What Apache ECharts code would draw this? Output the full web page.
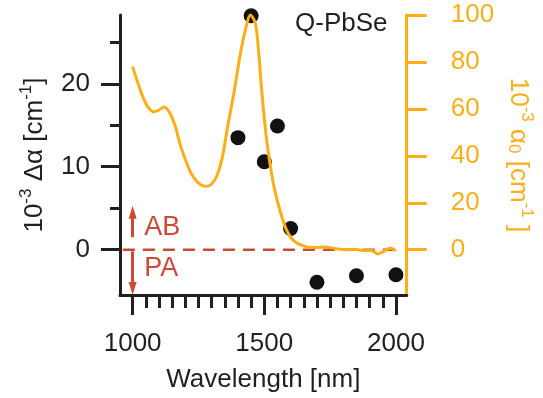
<!DOCTYPE html>
<html>
<head>
<meta charset="utf-8">
<script src="https://cdn.jsdelivr.net/npm/echarts@6/dist/echarts.min.js"></script>
<style>
  html, body { margin: 0; padding: 0; background: #fff; }
  #chart { width: 543px; height: 398px; }
</style>
</head>
<body>
<div id="chart"></div>
<script>
// Transient absorption change (left axis, 10^-3 cm^-1)
const probeWavelength = [1400, 1450, 1500, 1550, 1600, 1700, 1850, 2000];
const deltaAlpha = [13.5, 28.2, 10.6, 14.9, 2.55, -3.94, -3.15, -3.03];

// Linear absorption spectrum (right axis, 10^-3 cm^-1)
const absWavelength = [1000, 1020, 1038, 1057, 1080, 1100, 1119, 1140, 1162, 1180, 1200, 1220, 1240, 1260, 1280,
  1300, 1320, 1340, 1361, 1385, 1410, 1429, 1447, 1466, 1478, 1491, 1509, 1534, 1559, 1584, 1615,
  1658, 1695, 1732, 1770, 1807, 1844, 1881, 1906, 1931, 1949, 1968, 1980, 1999];
const alpha0 = [78, 71, 65.3, 61, 58.8, 59.5, 60.8, 58.5, 52.6, 45, 38.5, 33, 29.6, 27.6, 27,
  28, 31.5, 39, 52.5, 67, 84, 94, 100, 96.5, 85, 66.7, 46.8, 28.4, 17, 8.5, 3.5,
  1.3, 0.9, 1.2, 0.5, 0, 0.2, -0.4, -0.2, -1.8, -1.0, 0.2, 0.6, -0.5];

// Axis ticks
const xMajorTicks = [1000, 1500, 2000];
const xMinorTicks = [1050, 1100, 1150, 1200, 1250, 1300, 1350, 1400, 1450, 1550, 1600, 1650, 1700, 1750, 1800, 1850, 1900, 1950];
const leftMajorTicks = [0, 10, 20];
const leftMinorTicks = [5, 15, 25];
const rightTicks = [0, 20, 40, 60, 80, 100];

// Zero reference line extent and sign annotations
const zeroLineX = [963, 2008];
const arrowX = 1000;
const abArrow = [1.5, 4.5];
const paArrow = [-0.2, -4.7];
const annotationX = 1044;
const annotations = [{ text: 'AB', y: 2.7 }, { text: 'PA', y: -2.3 }];

const FONT = 'Liberation Sans';
const INK = '#231f20';
const ORANGE = '#fbae17';
const RED = '#cc4a35';

const xRange = { min: 952, max: 2041 };
const leftRange = { min: -5.47, max: 28.29 };
const rightRange = { min: -19.3, max: 100 };

const chart = echarts.init(document.getElementById('chart'), null, { renderer: 'canvas' });

const supStyle = (color) => ({ fontSize: 17, fontFamily: FONT, color, verticalAlign: 'top', lineHeight: 30 });
const mainStyle = (color) => ({ fontSize: 26, fontFamily: FONT, color, lineHeight: 30, verticalAlign: 'bottom' });
const subStyle = (color) => ({ fontSize: 17, fontFamily: FONT, color, verticalAlign: 'bottom', lineHeight: 30 });
const plain = v => String(v);

chart.setOption({
  animation: false,
  backgroundColor: '#fff',
  title: {
    text: 'Q-PbSe', left: 295, top: 11, padding: 0,
    textStyle: { fontFamily: FONT, fontSize: 26, fontWeight: 'normal', color: INK }
  },
  grid: { left: 120, right: 130, top: 15, bottom: 102, containLabel: false },
  xAxis: [
    {
      type: 'value', min: xRange.min, max: xRange.max, position: 'bottom', offset: 0,
      name: 'Wavelength [nm]', nameLocation: 'middle', nameGap: 72,
      nameTextStyle: { fontFamily: FONT, fontSize: 26, color: INK },
      axisLine: { show: true, onZero: false, lineStyle: { color: INK, width: 3 } },
      axisTick: { show: true, customValues: xMajorTicks, length: 20, lineStyle: { color: INK, width: 3 } },
      axisLabel: { customValues: xMajorTicks, formatter: plain, margin: 36, fontFamily: FONT, fontSize: 26, color: INK },
      splitLine: { show: false }
    },
    {
      type: 'value', min: xRange.min, max: xRange.max, position: 'bottom', offset: 0,
      axisLine: { show: false, onZero: false },
      axisTick: { show: true, customValues: xMinorTicks, length: 13, lineStyle: { color: INK, width: 3 } },
      axisLabel: { show: false },
      splitLine: { show: false }
    }
  ],
  yAxis: [
    {
      type: 'value', min: leftRange.min, max: leftRange.max, position: 'left', offset: 0,
      name: '{m|10}{s|-3}{m| Δα [cm}{s|-1}{m|]}',
      nameLocation: 'middle', nameGap: 72, nameRotate: 90,
      nameTextStyle: {
        fontFamily: FONT, fontSize: 26, color: INK,
        rich: { m: mainStyle(INK), s: supStyle(INK) }
      },
      axisLine: { show: true, onZero: false, lineStyle: { color: INK, width: 3 } },
      axisTick: { show: true, customValues: leftMajorTicks, length: 19, lineStyle: { color: INK, width: 3 } },
      axisLabel: { customValues: leftMajorTicks, formatter: plain, margin: 30, fontFamily: FONT, fontSize: 26, color: INK },
      splitLine: { show: false }
    },
    {
      type: 'value', min: rightRange.min, max: rightRange.max, position: 'right', offset: 0,
      name: '{m|10}{s|-3}{m| α}{b|0}{m| [cm}{s|-1}{m| ]}',
      nameLocation: 'middle', nameGap: 95, nameRotate: -90,
      nameTextStyle: {
        fontFamily: FONT, fontSize: 26, color: ORANGE,
        rich: { m: mainStyle(ORANGE), s: supStyle(ORANGE), b: subStyle(ORANGE) }
      },
      axisLine: { show: true, onZero: false, lineStyle: { color: ORANGE, width: 3 } },
      axisTick: { show: true, customValues: rightTicks, length: 20, lineStyle: { color: ORANGE, width: 3 } },
      axisLabel: { customValues: rightTicks, formatter: plain, margin: 44, fontFamily: FONT, fontSize: 26, color: ORANGE },
      splitLine: { show: false }
    },
    {
      type: 'value', min: leftRange.min, max: leftRange.max, position: 'left', offset: 0,
      axisLine: { show: false, onZero: false },
      axisTick: { show: true, customValues: leftMinorTicks, length: 10, lineStyle: { color: INK, width: 3 } },
      axisLabel: { show: false },
      splitLine: { show: false }
    }
  ],
  series: [
    {
      name: 'zero', type: 'line', xAxisIndex: 0, yAxisIndex: 0, z: 1,
      data: zeroLineX.map(x => [x, 0]),
      symbol: 'none', silent: true,
      lineStyle: { color: RED, width: 2.5, type: [12, 8] },
      markLine: {
        silent: true, symbol: ['none', 'triangle'], symbolSize: [8, 13],
        lineStyle: { color: RED, width: 3, type: 'solid' },
        label: { show: false },
        data: [
          [{ coord: [arrowX, abArrow[0]] }, { coord: [arrowX, abArrow[1]] }],
          [{ coord: [arrowX, paArrow[0]] }, { coord: [arrowX, paArrow[1]] }]
        ]
      },
      markPoint: {
        silent: true, symbol: 'circle', symbolSize: 0,
        label: {
          show: true, position: 'right', distance: 0,
          fontFamily: FONT, fontSize: 27, color: RED,
          formatter: p => p.name
        },
        data: annotations.map(a => ({ name: a.text, coord: [annotationX, a.y] }))
      }
    },
    {
      name: 'Δα', type: 'scatter', xAxisIndex: 0, yAxisIndex: 0, z: 2,
      data: probeWavelength.map((x, i) => [x, deltaAlpha[i]]),
      symbol: 'circle', symbolSize: 15, clip: false,
      itemStyle: { color: '#111', opacity: 1 }
    },
    {
      name: 'α0', type: 'line', xAxisIndex: 0, yAxisIndex: 1, z: 3,
      data: absWavelength.map((x, i) => [x, alpha0[i]]),
      symbol: 'none', smooth: 0.3, clip: false,
      lineStyle: { color: ORANGE, width: 3 }
    }
  ]
});
</script>
</body>
</html>
